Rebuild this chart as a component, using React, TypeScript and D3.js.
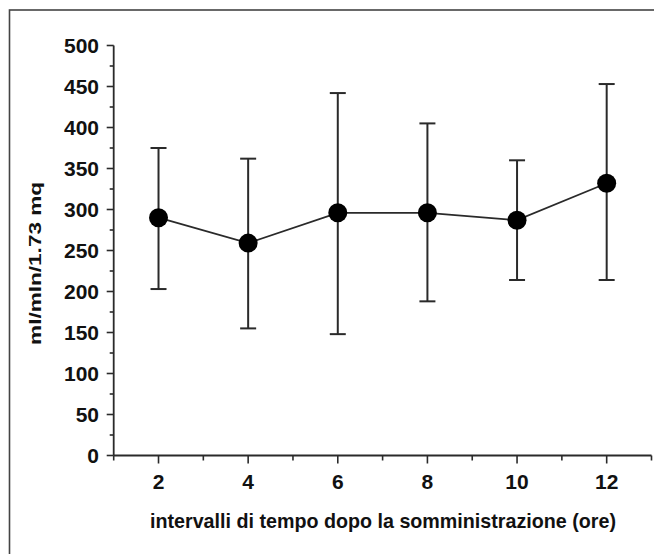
import { useEffect, useRef } from 'react';
import * as d3 from 'd3';

// hours after administration
const hours = [2, 4, 6, 8, 10, 12];
// mean clearance (ml/mln/1.73 mq)
const means = [290, 259, 296, 296, 287, 332];
const upper = [375, 362, 442, 405, 360, 453];
const lower = [203, 155, 148, 188, 214, 214];

const yTicks = [0, 50, 100, 150, 200, 250, 300, 350, 400, 450, 500];
const yMinorTicks = [25, 75, 125, 175, 225, 275, 325, 375, 425, 475];
const xTicks = [2, 4, 6, 8, 10, 12];
const xMinorTicks = [1, 3, 5, 7, 9, 11, 13];

const xTitle = 'intervalli di tempo dopo la somministrazione (ore)';
const yTitle = 'ml/mln/1.73 mq';

export default function App() {
    const svgRef = useRef<SVGSVGElement>(null);

    useEffect(() => {
        if (!svgRef.current) return;
        const svg = d3.select(svgRef.current);
        svg.selectAll('*').remove();

        const W = 654;
        const H = 554;
        const font = '"Liberation Sans", Arial, Helvetica, sans-serif';
        const ink = '#2a2a2a';

        svg.attr('width', W).attr('height', H);

        svg.append('rect')
            .attr('x', 0).attr('y', 0)
            .attr('width', W).attr('height', H)
            .attr('fill', '#fff');

        // outer frame (runs off the right / bottom edges)
        svg.append('rect')
            .attr('x', 9.5).attr('y', 10)
            .attr('width', W + 40).attr('height', H + 40)
            .attr('fill', 'none')
            .attr('stroke', '#444')
            .attr('stroke-width', 1.6);

        const x = d3.scaleLinear().domain([1, 13]).range([113.7, 651.5]);
        const y = d3.scaleLinear().domain([0, 500]).range([455.5, 45.5]);

        const g = svg.append('g');

        // axes lines
        g.append('line')
            .attr('x1', x(1)).attr('x2', x(13))
            .attr('y1', y(0)).attr('y2', y(0))
            .attr('stroke', ink).attr('stroke-width', 1.8);
        g.append('line')
            .attr('x1', x(1)).attr('x2', x(1))
            .attr('y1', y(0)).attr('y2', y(500))
            .attr('stroke', ink).attr('stroke-width', 1.8);

        // y ticks
        g.selectAll('.ytick')
            .data(yTicks)
            .join('line')
            .attr('x1', x(1) - 7).attr('x2', x(1))
            .attr('y1', d => y(d)).attr('y2', d => y(d))
            .attr('stroke', ink).attr('stroke-width', 1.6);
        g.selectAll('.yminor')
            .data(yMinorTicks)
            .join('line')
            .attr('x1', x(1) - 4).attr('x2', x(1))
            .attr('y1', d => y(d)).attr('y2', d => y(d))
            .attr('stroke', ink).attr('stroke-width', 1.6);
        g.selectAll('.ylabel')
            .data(yTicks)
            .join('text')
            .attr('x', 99)
            .attr('y', d => y(d) + 7.5)
            .attr('text-anchor', 'end')
            .attr('font-family', font)
            .attr('font-weight', 'bold')
            .attr('font-size', '21px')
            .attr('fill', '#111')
            .text(d => d);

        // x ticks
        g.selectAll('.xtick')
            .data(xTicks)
            .join('line')
            .attr('x1', d => x(d)).attr('x2', d => x(d))
            .attr('y1', y(0)).attr('y2', y(0) + 8)
            .attr('stroke', ink).attr('stroke-width', 1.6);
        g.selectAll('.xminor')
            .data(xMinorTicks)
            .join('line')
            .attr('x1', d => x(d)).attr('x2', d => x(d))
            .attr('y1', y(0)).attr('y2', y(0) + 5)
            .attr('stroke', ink).attr('stroke-width', 1.6);
        g.selectAll('.xlabel')
            .data(xTicks)
            .join('text')
            .attr('x', d => x(d))
            .attr('y', 488.5)
            .attr('text-anchor', 'middle')
            .attr('font-family', font)
            .attr('font-weight', 'bold')
            .attr('font-size', '21px')
            .attr('fill', '#111')
            .text(d => d);

        // titles
        svg.append('text')
            .attr('x', 383)
            .attr('y', 528)
            .attr('text-anchor', 'middle')
            .attr('font-family', font)
            .attr('font-weight', 'bold')
            .attr('font-size', '19.7px')
            .attr('fill', '#111')
            .text(xTitle);

        svg.append('text')
            .attr('transform', 'translate(40.5,263.4) rotate(-90)')
            .attr('text-anchor', 'middle')
            .attr('font-family', font)
            .attr('font-weight', 'bold')
            .attr('font-size', '17px')
            .attr('fill', '#111')
            .attr('textLength', 163)
            .attr('lengthAdjust', 'spacingAndGlyphs')
            .text(yTitle);

        const pts = hours.map((h, i) => ({ h, m: means[i], hi: upper[i], lo: lower[i] }));

        // error bars
        const bars = g.selectAll('.err')
            .data(pts)
            .join('g');
        bars.append('line')
            .attr('x1', d => x(d.h)).attr('x2', d => x(d.h))
            .attr('y1', d => y(d.hi)).attr('y2', d => y(d.lo))
            .attr('stroke', ink).attr('stroke-width', 2);
        bars.append('line')
            .attr('x1', d => x(d.h) - 8).attr('x2', d => x(d.h) + 8)
            .attr('y1', d => y(d.hi)).attr('y2', d => y(d.hi))
            .attr('stroke', ink).attr('stroke-width', 2);
        bars.append('line')
            .attr('x1', d => x(d.h) - 8).attr('x2', d => x(d.h) + 8)
            .attr('y1', d => y(d.lo)).attr('y2', d => y(d.lo))
            .attr('stroke', ink).attr('stroke-width', 2);

        // connecting line
        const line = d3.line<{ h: number; m: number }>()
            .x(d => x(d.h))
            .y(d => y(d.m));
        g.append('path')
            .datum(pts)
            .attr('d', line)
            .attr('fill', 'none')
            .attr('stroke', ink)
            .attr('stroke-width', 1.8);

        // markers
        g.selectAll('.pt')
            .data(pts)
            .join('circle')
            .attr('cx', d => x(d.h))
            .attr('cy', d => y(d.m))
            .attr('r', 9.5)
            .attr('fill', '#000');
    }, []);

    return (
        <div style={{ position: 'absolute', left: 0, top: 0 }}>
            <svg ref={svgRef} style={{ display: 'block' }} />
        </div>
    );
}
